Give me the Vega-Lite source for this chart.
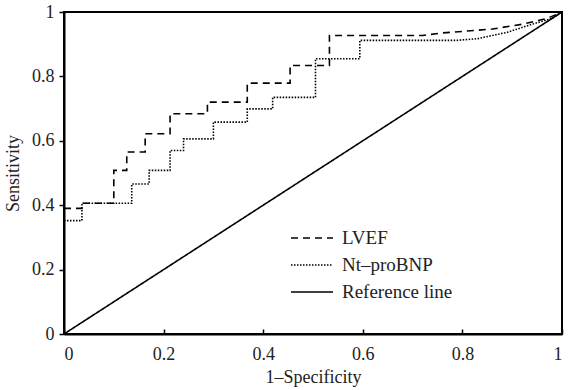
{
  "$schema": "https://vega.github.io/schema/vega-lite/v6.json",
  "width": 498,
  "height": 322,
  "autosize": {"type": "none"},
  "padding": {"left": 64, "top": 12, "right": 6, "bottom": 56},
  "background": "white",
  "config": {
    "view": {"stroke": "black", "strokeWidth": 2},
    "font": "Liberation Serif",
    "axis": {"labelFont": "Liberation Serif", "titleFont": "Liberation Serif", "labelColor": "#222", "titleColor": "#222", "domainColor": "black", "tickColor": "black", "domainWidth": 2, "tickWidth": 1.5, "grid": false, "labelFontSize": 18, "titleFontSize": 18, "titleFontWeight": "normal"}
  },
  "data": {
    "values": [
      {"series": "LVEF", "i": 1, "x": 0, "y": 0.39},
      {"series": "LVEF", "i": 2, "x": 0.036, "y": 0.39},
      {"series": "LVEF", "i": 3, "x": 0.036, "y": 0.406},
      {"series": "LVEF", "i": 4, "x": 0.1, "y": 0.406},
      {"series": "LVEF", "i": 5, "x": 0.1, "y": 0.508},
      {"series": "LVEF", "i": 6, "x": 0.126, "y": 0.508},
      {"series": "LVEF", "i": 7, "x": 0.126, "y": 0.565},
      {"series": "LVEF", "i": 8, "x": 0.163, "y": 0.565},
      {"series": "LVEF", "i": 9, "x": 0.163, "y": 0.622},
      {"series": "LVEF", "i": 10, "x": 0.213, "y": 0.622},
      {"series": "LVEF", "i": 11, "x": 0.213, "y": 0.684},
      {"series": "LVEF", "i": 12, "x": 0.288, "y": 0.684},
      {"series": "LVEF", "i": 13, "x": 0.288, "y": 0.72},
      {"series": "LVEF", "i": 14, "x": 0.368, "y": 0.72},
      {"series": "LVEF", "i": 15, "x": 0.368, "y": 0.779},
      {"series": "LVEF", "i": 16, "x": 0.454, "y": 0.779},
      {"series": "LVEF", "i": 17, "x": 0.454, "y": 0.834},
      {"series": "LVEF", "i": 18, "x": 0.533, "y": 0.834},
      {"series": "LVEF", "i": 19, "x": 0.533, "y": 0.927},
      {"series": "LVEF", "i": 20, "x": 0.72, "y": 0.927},
      {"series": "LVEF", "i": 21, "x": 0.76, "y": 0.935},
      {"series": "LVEF", "i": 22, "x": 0.86, "y": 0.947},
      {"series": "LVEF", "i": 23, "x": 0.92, "y": 0.962},
      {"series": "LVEF", "i": 24, "x": 0.97, "y": 0.98},
      {"series": "LVEF", "i": 25, "x": 1, "y": 1},
      {"series": "Nt–proBNP", "i": 1, "x": 0, "y": 0.352},
      {"series": "Nt–proBNP", "i": 2, "x": 0.036, "y": 0.352},
      {"series": "Nt–proBNP", "i": 3, "x": 0.036, "y": 0.406},
      {"series": "Nt–proBNP", "i": 4, "x": 0.136, "y": 0.406},
      {"series": "Nt–proBNP", "i": 5, "x": 0.136, "y": 0.466},
      {"series": "Nt–proBNP", "i": 6, "x": 0.171, "y": 0.466},
      {"series": "Nt–proBNP", "i": 7, "x": 0.171, "y": 0.508},
      {"series": "Nt–proBNP", "i": 8, "x": 0.213, "y": 0.508},
      {"series": "Nt–proBNP", "i": 9, "x": 0.213, "y": 0.57},
      {"series": "Nt–proBNP", "i": 10, "x": 0.24, "y": 0.57},
      {"series": "Nt–proBNP", "i": 11, "x": 0.24, "y": 0.606},
      {"series": "Nt–proBNP", "i": 12, "x": 0.3, "y": 0.606},
      {"series": "Nt–proBNP", "i": 13, "x": 0.3, "y": 0.658},
      {"series": "Nt–proBNP", "i": 14, "x": 0.368, "y": 0.658},
      {"series": "Nt–proBNP", "i": 15, "x": 0.368, "y": 0.699},
      {"series": "Nt–proBNP", "i": 16, "x": 0.419, "y": 0.699},
      {"series": "Nt–proBNP", "i": 17, "x": 0.419, "y": 0.735},
      {"series": "Nt–proBNP", "i": 18, "x": 0.505, "y": 0.735},
      {"series": "Nt–proBNP", "i": 19, "x": 0.505, "y": 0.855},
      {"series": "Nt–proBNP", "i": 20, "x": 0.594, "y": 0.855},
      {"series": "Nt–proBNP", "i": 21, "x": 0.594, "y": 0.912},
      {"series": "Nt–proBNP", "i": 22, "x": 0.79, "y": 0.912},
      {"series": "Nt–proBNP", "i": 23, "x": 0.83, "y": 0.917},
      {"series": "Nt–proBNP", "i": 24, "x": 0.89, "y": 0.937},
      {"series": "Nt–proBNP", "i": 25, "x": 0.94, "y": 0.962},
      {"series": "Nt–proBNP", "i": 26, "x": 0.98, "y": 0.98},
      {"series": "Nt–proBNP", "i": 27, "x": 1, "y": 1},
      {"series": "Reference line", "i": 1, "x": 0, "y": 0},
      {"series": "Reference line", "i": 2, "x": 1, "y": 1}
    ]
  },
  "mark": {"type": "line", "stroke": "black", "strokeWidth": 1.6, "clip": false},
  "encoding": {
    "x": {"field": "x", "type": "quantitative", "scale": {"domain": [0, 1], "nice": false},
      "axis": {"values": [0, 0.2, 0.4, 0.6, 0.8, 1], "format": "~g", "tickSize": -5, "labelPadding": 16, "title": "1–Specificity", "titlePadding": 5}},
    "y": {"field": "y", "type": "quantitative", "scale": {"domain": [0, 1], "nice": false},
      "axis": {"values": [0, 0.2, 0.4, 0.6, 0.8, 1], "format": "~g", "tickSize": 5, "labelPadding": 5, "title": "Sensitivity", "titlePadding": 9}},
    "strokeDash": {"field": "series", "type": "nominal",
      "scale": {"domain": ["LVEF", "Nt–proBNP", "Reference line"], "range": [[7, 5], [1.5, 1.5], [1, 0]]},
      "legend": {"title": null, "orient": "none", "legendX": 226, "legendY": 216, "symbolType": "stroke", "symbolSize": 1764, "symbolStrokeWidth": 1.6, "symbolStrokeColor": "black", "labelFont": "Liberation Serif", "labelFontSize": 19, "labelColor": "#222", "labelOffset": 8, "clipHeight": 20, "rowPadding": 7, "padding": 0}},
    "order": {"field": "i", "type": "quantitative"}
  }
}
